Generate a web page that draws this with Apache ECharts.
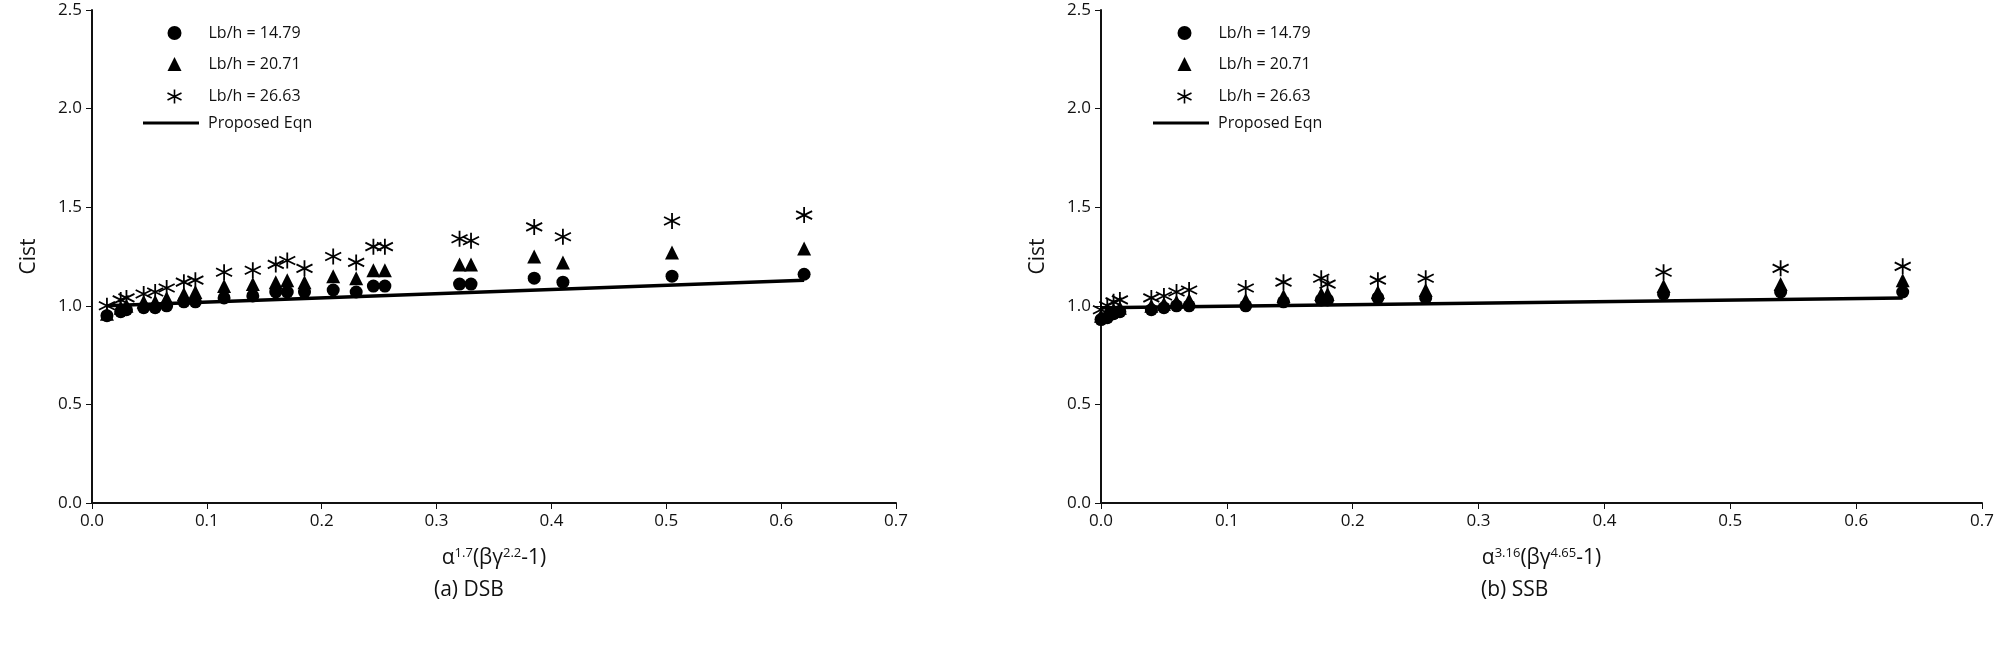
<!DOCTYPE html>
<html>
<head>
<meta charset="utf-8">
<script src="https://cdn.jsdelivr.net/npm/echarts@6/dist/echarts.min.js"></script>
<style>html,body{margin:0;padding:0;background:#fff}#chart{width:2008px;height:645px}</style>
</head>
<body>
<div id="chart"></div>
<script>
// (a) DSB
const dsbX = [0.013, 0.025, 0.03, 0.045, 0.055, 0.065, 0.08, 0.09, 0.115, 0.14, 0.16, 0.17, 0.185, 0.21, 0.23, 0.245, 0.255, 0.32, 0.33, 0.385, 0.41, 0.505, 0.62];
const dsb1479 = [0.95, 0.97, 0.98, 0.99, 0.99, 1.0, 1.02, 1.02, 1.04, 1.05, 1.07, 1.07, 1.07, 1.08, 1.07, 1.10, 1.10, 1.11, 1.11, 1.14, 1.12, 1.15, 1.16];
const dsb2071 = [0.96, 0.99, 1.0, 1.02, 1.02, 1.04, 1.06, 1.07, 1.10, 1.11, 1.12, 1.13, 1.12, 1.15, 1.14, 1.18, 1.18, 1.21, 1.21, 1.25, 1.22, 1.27, 1.29];
const dsb2663 = [1.0, 1.03, 1.04, 1.06, 1.07, 1.09, 1.12, 1.13, 1.17, 1.18, 1.21, 1.23, 1.19, 1.25, 1.22, 1.30, 1.30, 1.34, 1.33, 1.40, 1.35, 1.43, 1.46];
const dsbEqn = [[0.013, 1.0], [0.62, 1.13]];

// (b) SSB
const ssbX = [0.0, 0.005, 0.01, 0.015, 0.04, 0.05, 0.06, 0.07, 0.115, 0.145, 0.175, 0.18, 0.22, 0.258, 0.447, 0.54, 0.637];
const ssb1479 = [0.93, 0.94, 0.96, 0.97, 0.98, 0.99, 1.0, 1.0, 1.0, 1.02, 1.03, 1.03, 1.04, 1.04, 1.06, 1.07, 1.07];
const ssb2071 = [0.95, 0.97, 0.98, 0.99, 1.0, 1.01, 1.02, 1.03, 1.03, 1.05, 1.06, 1.06, 1.07, 1.08, 1.10, 1.11, 1.13];
const ssb2663 = [0.98, 1.0, 1.02, 1.03, 1.04, 1.05, 1.07, 1.08, 1.09, 1.12, 1.14, 1.11, 1.13, 1.14, 1.17, 1.19, 1.20];
const ssbEqn = [[0.0, 0.99], [0.637, 1.04]];

const legendNames = ['Lb/h = 14.79', 'Lb/h = 20.71', 'Lb/h = 26.63', 'Proposed Eqn'];
const STAR = 'path://M5,0V10M0,2.5L10,7.5M0,7.5L10,2.5';
const font = '"Open Sans", "DejaVu Sans", sans-serif';

function zip(xs, ys) {
    return xs.map((x, i) => [x, ys[i]]);
}

function makeAxes(nameParts) {
    const x = {
        type: 'value', min: 0, max: 0.7, interval: 0.1,
        axisLine: { lineStyle: { color: '#111', width: 2 } },
        axisTick: { show: true, length: 6, lineStyle: { color: '#111' } },
        splitLine: { show: false },
        axisLabel: { color: '#111', fontSize: 17, fontFamily: font, formatter: v => v.toFixed(1), margin: 10 },
        name: nameParts, nameLocation: 'middle', nameGap: 44,
        nameTextStyle: {
            color: '#111', fontSize: 21, fontFamily: font,
            rich: { s: { fontSize: 13, verticalAlign: 'top', padding: [0, 0, 10, 0], fontFamily: font, color: '#111' },
                    n: { fontSize: 21, fontFamily: font, color: '#111' } }
        }
    };
    const y = {
        type: 'value', min: 0, max: 2.5, interval: 0.5,
        axisLine: { show: true, lineStyle: { color: '#111', width: 2 } },
        axisTick: { show: true, length: 6, lineStyle: { color: '#111' } },
        splitLine: { show: false },
        axisLabel: { color: '#111', fontSize: 17, fontFamily: font, formatter: v => v.toFixed(1), margin: 10 },
        name: 'Cist', nameLocation: 'middle', nameGap: 52,
        nameTextStyle: { color: '#111', fontSize: 21, fontFamily: font }
    };
    return [x, y];
}

const chart = echarts.init(document.getElementById('chart'));
const [x0, y0] = makeAxes('{n|α}{s|1.7}{n|(βγ}{s|2.2}{n|-1)}');
const [x1, y1] = makeAxes('{n|α}{s|3.16}{n|(βγ}{s|4.65}{n|-1)}');
x0.gridIndex = 0; y0.gridIndex = 0;
x1.gridIndex = 1; y1.gridIndex = 1;

function seriesFor(idx, xs, a, b, c, eqn) {
    return [
        { name: legendNames[0], type: 'scatter', xAxisIndex: idx, yAxisIndex: idx, data: zip(xs, a), symbol: 'circle', symbolSize: 13, itemStyle: { color: '#000', opacity: 1 } },
        { name: legendNames[1], type: 'scatter', xAxisIndex: idx, yAxisIndex: idx, data: zip(xs, b), symbol: 'triangle', symbolSize: 14, itemStyle: { color: '#000', opacity: 1 } },
        { name: legendNames[2], type: 'scatter', xAxisIndex: idx, yAxisIndex: idx, data: zip(xs, c), symbol: STAR, symbolSize: 16, itemStyle: { color: 'none', borderColor: '#000', borderWidth: 1.8, opacity: 1 } },
        { name: legendNames[3], type: 'line', xAxisIndex: idx, yAxisIndex: idx, data: eqn, symbol: 'none', lineStyle: { color: '#000', width: 3.5 }, itemStyle: { color: '#000' }, z: 1 }
    ];
}

function legendsAt(left) {
    const text = { color: '#111', fontSize: 16, fontFamily: font, padding: [0, 0, 0, 22] };
    return [
        {
            orient: 'vertical', left: left, top: 20, itemGap: 15, itemWidth: 14, itemHeight: 14,
            textStyle: text,
            data: [
                { name: legendNames[0], icon: 'circle' },
                { name: legendNames[1], icon: 'triangle' },
                { name: legendNames[2], icon: STAR, itemStyle: { color: 'none', borderColor: '#000', borderWidth: 1.6 } }
            ]
        },
        {
            orient: 'vertical', left: left - 22, top: 110, itemWidth: 56, itemHeight: 3,
            textStyle: { color: '#111', fontSize: 16, fontFamily: font, padding: [0, 0, 0, 4] },
            data: [{ name: legendNames[3], icon: 'rect', itemStyle: { color: '#000' } }]
        }
    ];
}

chart.setOption({
    animation: false,
    backgroundColor: '#fff',
    grid: [
        { left: 92, width: 804, top: 10, height: 493 },
        { left: 1101, width: 881, top: 10, height: 493 }
    ],
    legend: [].concat(legendsAt(160), legendsAt(1170)),
    xAxis: [x0, x1],
    yAxis: [y0, y1],
    series: [].concat(
        seriesFor(0, dsbX, dsb1479, dsb2071, dsb2663, dsbEqn),
        seriesFor(1, ssbX, ssb1479, ssb2071, ssb2663, ssbEqn)
    ),
    graphic: [
        { type: 'text', left: 434, top: 580, style: { text: '(a) DSB', fontSize: 21, fontFamily: font, fill: '#111' } },
        { type: 'text', left: 1481, top: 580, style: { text: '(b) SSB', fontSize: 21, fontFamily: font, fill: '#111' } }
    ]
});
</script>
</body>
</html>
